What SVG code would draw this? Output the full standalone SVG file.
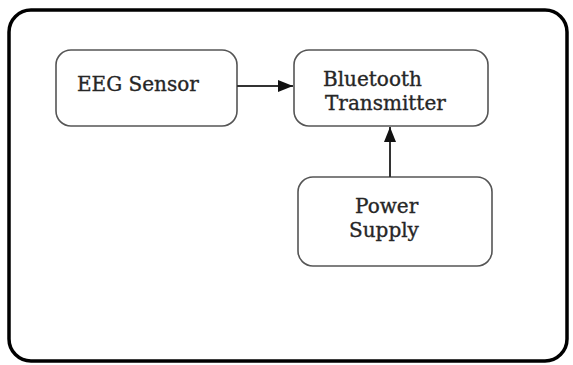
<svg xmlns="http://www.w3.org/2000/svg" width="573" height="365" viewBox="0 0 573 365">
<style>
.frame{fill:none;stroke:#000;stroke-width:3.5}
.box{fill:#fff;stroke:#555;stroke-width:1.6}
.lbl{font-family:"DejaVu Serif",serif;font-size:20px;fill:#262626;stroke:#262626;stroke-width:0.35}
.conn{stroke:#333;stroke-width:2;fill:none}
</style>
<defs>
<marker id="arr" markerWidth="15" markerHeight="12" refX="15" refY="6" orient="auto" markerUnits="userSpaceOnUse">
<path d="M0,0 L15,6 L0,12 Z" fill="#111"/>
</marker>
</defs>
<rect class="frame" x="9" y="10" width="558" height="351" rx="22" ry="22"/>
<g id="eeg-sensor">
<rect class="box" x="56" y="50" width="181" height="76" rx="15" ry="15"/>
<text class="lbl" x="77" y="91">EEG Sensor</text>
</g>
<g id="bluetooth-transmitter">
<rect class="box" x="294" y="50" width="194" height="76" rx="15" ry="15"/>
<text class="lbl" x="323" y="86">Bluetooth</text>
<text class="lbl" x="325" y="110">Transmitter</text>
</g>
<g id="power-supply">
<rect class="box" x="298" y="177" width="194" height="89" rx="15" ry="15"/>
<text class="lbl" x="355" y="213">Power</text>
<text class="lbl" x="349" y="237">Supply</text>
</g>
<g id="connectors">
<line class="conn" x1="237" y1="86" x2="293" y2="86" marker-end="url(#arr)"/>
<line class="conn" x1="390" y1="177" x2="390" y2="127" marker-end="url(#arr)"/>
</g>
</svg>
